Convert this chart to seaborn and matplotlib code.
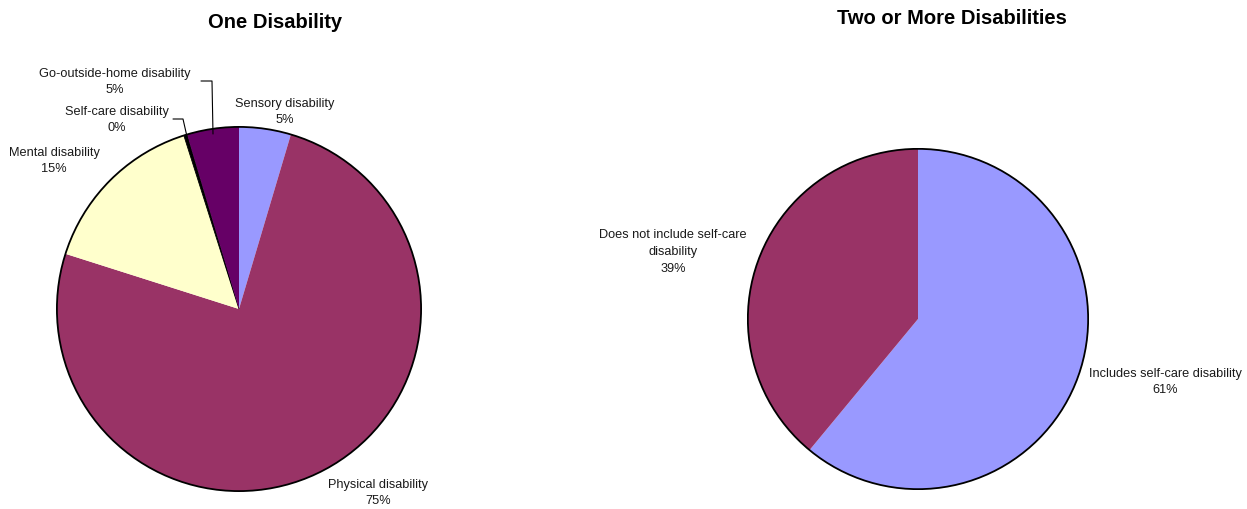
import numpy as np
import matplotlib
matplotlib.use("Agg")
import matplotlib.pyplot as plt
import seaborn as sns

# ---- data ----
one_labels = ["Sensory disability", "Physical disability", "Mental disability",
              "Self-care disability", "Go-outside-home disability"]
one_values = [4.6, 75.3, 15.2, 0.3, 4.6]
one_colors = ["#9999FF", "#993366", "#FFFFCC", "#000000", "#660066"]

two_labels = ["Includes self-care disability", "Does not include self-care\ndisability"]
two_values = [61, 39]
two_colors = ["#9999FF", "#993366"]

sns.set_theme(style="white")
plt.rcParams['font.family'] = ['Liberation Sans', 'DejaVu Sans']

W, H = 1247, 510
fig = plt.figure(figsize=(W / 100, H / 100), dpi=100)


def fx(x, y):
    return (x / W, 1 - y / H)


def pie_axes(cx, cy, r):
    ax = fig.add_axes([(cx - r) / W, (H - cy - r) / H, 2 * r / W, 2 * r / H])
    return ax


def draw_pie(ax, values, colors):
    wedges, _ = ax.pie(values, colors=colors, startangle=90, counterclock=False,
                       radius=1, wedgeprops=dict(linewidth=0))
    ax.add_patch(plt.Circle((0, 0), 1, fill=False, edgecolor="black", linewidth=1.3))
    # pie() resets the limits, so set them afterwards
    ax.set_xlim(-1.005, 1.005)
    ax.set_ylim(-1.005, 1.005)
    ax.set_aspect("equal")
    ax.axis("off")
    return wedges


# ---- left pie ----
ax1 = pie_axes(239, 310, 183)
w1 = draw_pie(ax1, one_values, one_colors)
w1[3].set_edgecolor("black")
w1[3].set_linewidth(0.6)

# ---- right pie ----
ax2 = pie_axes(918, 320, 171)
draw_pie(ax2, two_values, two_colors)

# ---- titles ----
fig.text(*fx(275, 23), "One Disability", ha="center", va="center",
         fontsize=14.5, fontweight="bold", color="black")
fig.text(*fx(952, 19), "Two or More Disabilities", ha="center", va="center",
         fontsize=14.5, fontweight="bold", color="black")

# ---- labels ----
lab_kw = dict(ha="center", va="center", fontsize=9.2, color="#1a1a1a", linespacing=1.55)
one_pos = [(285, 112), (378, 493), (54, 161), (117, 120), (115, 82)]
for lab, v, (x, y) in zip(one_labels, one_values, one_pos):
    fig.text(*fx(x, y), f"{lab}\n{round(v)}%", **lab_kw)

two_pos = [(1165, 382), (673, 252)]
for lab, v, (x, y) in zip(two_labels, two_values, two_pos):
    fig.text(*fx(x, y), f"{lab}\n{round(v)}%", **lab_kw)

# ---- leader lines ----
for pts in ([(173, 120), (183, 120), (188, 142)],
            [(201, 82), (212, 82), (213, 135)]):
    xs = [p[0] / W for p in pts]
    ys = [1 - p[1] / H for p in pts]
    fig.add_artist(plt.Line2D(xs, ys, color="black", linewidth=0.8,
                              transform=fig.transFigure))

fig.savefig("out.png", dpi=100, facecolor="white")
